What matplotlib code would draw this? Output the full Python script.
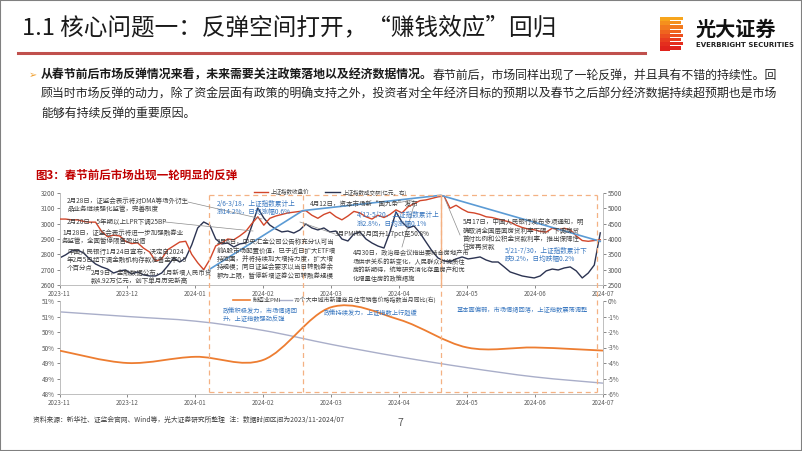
import numpy as np
import matplotlib
matplotlib.use("Agg")
import matplotlib.pyplot as plt
import matplotlib.transforms as mtransforms
from matplotlib.lines import Line2D
from matplotlib.path import Path
from matplotlib.patches import PathPatch, Rectangle

plt.rcParams['font.family'] = ['Noto Sans CJK SC', 'DejaVu Sans']

W, H = 802, 451

months = ['2023-11', '2023-12', '2024-01', '2024-02', '2024-03',
          '2024-04', '2024-05', '2024-06', '2024-07']

# 上证指数收盘价 (roughly one value per 1.5 trading days)
sh_close = [3030, 3030, 3025, 3025, 3015, 3010, 3010, 2950, 2915, 2925,
            2920, 2885, 2870, 2875, 2840, 2815, 2755, 2770, 2830, 2855,
            2880, 2885, 2800, 2745, 2700, 2765, 2855, 2875, 2900, 2895,
            2920, 2950, 3000, 3045, 2990, 3035, 3050, 3060, 3070, 3075,
            3080, 3085, 3055, 3035, 3060, 3075, 3045, 3025, 3050, 3080,
            3070, 3045, 3030, 3055, 3040, 3060, 3090, 3070, 3110, 3130,
            3150, 3155, 3165, 3175, 3180, 3100, 3120, 3095, 3075, 3070,
            3060, 3045, 3040, 3030, 3020, 3010, 2990, 2975, 2965, 2960,
            2950, 2945, 2970, 2960, 2970, 2960, 2920, 2890, 2885, 2890,
            2895]

# 上证指数成交额(亿元)
sh_turnover = [3380, 3480, 3610, 3640, 3545, 3350, 3185, 3090, 3020, 2890,
               2960, 2990, 2860, 2925, 2830, 2795, 2795, 2890, 3120, 3380,
               3250, 3380, 3805, 4360, 4555, 4455, 4000, 3840, 3870, 3740,
               3840, 3870, 4425, 5010, 4685, 4455, 4325, 4230, 4260, 4195,
               4295, 4490, 4360, 4295, 4360, 4230, 4260, 4000, 3935, 4165,
               4230, 4000, 3870, 3770, 3705, 4230, 4880, 4555, 4360, 4425,
               4195, 3900, 3610, 3380, 3285, 3250, 3350, 3415, 3350, 3380,
               3415, 3315, 3250, 3250, 3090, 2925, 2860, 2795, 2760, 2730,
               2795, 2960, 3020, 2990, 3055, 3090, 2960, 2730, 2890, 3150,
               4200]

# trend line through the turning points (2/5, 3/18, 5/20, 7/30)
trend_pos = [2.2, 3.58, 5.61, 7.96]
trend_val = [2700, 3085, 3185, 2885]

# phase boundaries (same dates) for the dashed boxes
phase_edges = [2.2, 3.58, 5.61, 7.91]

# monthly data
pmi = [49.4, 49.0, 49.2, 49.1, 50.8, 50.4, 49.5, 49.5, 49.4]
house_yoy = [-0.7, -1.0, -1.3, -1.9, -2.8, -3.6, -4.3, -4.9, -5.3]
pmi_ticks = [48.0, 48.5, 49.0, 49.5, 50.0, 50.5, 51.0]
pmi_ticklabels = ['48%', '49%', '49%', '50%', '50%', '51%', '51%']
house_ticks = [-6, -5, -4, -3, -2, -1, 0]
house_ticklabels = ['-6%', '-5%', '-4%', '-3%', '-2%', '-1%', '0%']

RED = '#d2462a'
NAVY = '#2c3452'
BLUE = '#5b9bd5'
TXTBLUE = '#3a78c0'
ORANGE = '#ed7d31'
HOUSE = '#a9aec9'
BOX = '#f4b183'
GRAYTXT = '#404040'
TICK = '#595959'
SPINE = '#bfbfbf'


def fx(x):
    return x / W


def fy(y):
    return 1 - y / H


def smooth_path(xs, ys):
    pts = np.column_stack([xs, ys]).astype(float)
    n = len(pts)
    verts = [pts[0]]
    codes = [Path.MOVETO]
    for i in range(n - 1):
        p0 = pts[max(i - 1, 0)]
        p1 = pts[i]
        p2 = pts[i + 1]
        p3 = pts[min(i + 2, n - 1)]
        verts += [p1 + (p2 - p0) / 6, p2 - (p3 - p1) / 6, p2]
        codes += [Path.CURVE4] * 3
    return Path(verts, codes)


fig = plt.figure(figsize=(W / 100, H / 100), dpi=100)

# slide frame, title, logo
fig.add_artist(Rectangle((0, 0), 1, 1, transform=fig.transFigure, fill=False,
                         ec='#808080', lw=1.5))
fig.text(fx(22), fy(28), '1.1 核心问题一：反弹空间打开，“赚钱效应”回归',
         fontsize=17, fontweight='medium', color='#1a1a1a', va='center')
fig.add_artist(Line2D([fx(18), fx(645)], [fy(52.5)] * 2, color='#c0504d', lw=2.2))

logo_cols = ['#f7a51c', '#f5901d', '#f27a1e', '#ef641f', '#ec4f1f', '#e83d1f', '#e42e1e', '#e0231c']
for i, c in enumerate(logo_cols):
    y0 = 17 + i * 4.2
    fig.add_artist(Rectangle((fx(660), fy(y0 + 4.2)), fx(10), 4.25 / H,
                             transform=fig.transFigure, color=c, lw=0))
    wid = 13 if i % 2 == 0 else 11
    fig.add_artist(Rectangle((fx(670), fy(y0 + 3.2)), fx(wid), 3.2 / H,
                             transform=fig.transFigure, color=c, lw=0))
fig.text(fx(696), fy(29), '光大证券', fontsize=14.5, fontweight='bold', color='#111111', va='center')
fig.text(fx(696), fy(45), 'EVERBRIGHT SECURITIES', fontsize=5.0, fontweight='bold',
         color='#222222', va='center', family='DejaVu Sans')

# bullet text
fig.text(fx(29), fy(75), '➢', fontsize=7, color='#f0a030', va='center', family='DejaVu Sans')
bold_part = '从春节前后市场反弹情况来看，未来需要关注政策落地以及经济数据情况。'
t1 = fig.text(fx(41), fy(75), bold_part, fontsize=8.6, fontweight='bold', color='#1a1a1a', va='center')
renderer = fig.canvas.get_renderer()
bb = t1.get_window_extent(renderer)
fig.text(bb.x1 / W, fy(75), '春节前后，市场同样出现了一轮反弹，并且具有不错的持续性。回',
         fontsize=8.6, color='#262626', va='center')
fig.text(fx(41), fy(94.5), '顾当时市场反弹的动力，除了资金层面有政策的明确支持之外，投资者对全年经济目标的预期以及春节之后部分经济数据持续超预期也是市场',
         fontsize=8.6, color='#262626', va='center')
fig.text(fx(41), fy(113), '能够有持续反弹的重要原因。', fontsize=8.6, color='#262626', va='center')

fig.text(fx(35), fy(175), '图3：春节前后市场出现一轮明显的反弹', fontsize=8.3,
         fontweight='bold', color='#c00000', va='center')

# ---------------- top chart ----------------
ax1 = fig.add_axes([fx(59.5), fy(285), fx(603) - fx(59.5), (285 - 193) / H])
ax1r = ax1.twinx()
xs = np.linspace(0, 7.96, len(sh_close))
ax1.plot(xs, sh_close, color=RED, lw=1.0, zorder=3)
ax1.plot(trend_pos, trend_val, color=BLUE, lw=1.2, zorder=4)
ax1r.plot(xs, sh_turnover, color=NAVY, lw=1.0)
ax1.set_zorder(ax1r.get_zorder() + 1)
ax1.patch.set_visible(False)

ax1.set_xlim(0, 8)
ax1.set_ylim(2600, 3200)
ax1.set_yticks(range(2600, 3201, 100))
ax1r.set_ylim(2500, 5500)
ax1r.set_yticks(range(2500, 5501, 500))
ax1.set_xticks(range(len(months)))
ax1.set_xticklabels(months)

# ---------------- bottom chart ----------------
ax2 = fig.add_axes([fx(59.5), fy(394), fx(603) - fx(59.5), (394 - 301) / H])
ax2r = ax2.twinx()
mx = np.arange(len(pmi))
ax2.add_patch(PathPatch(smooth_path(mx, pmi), fill=False, ec=ORANGE, lw=1.3, zorder=3))
ax2r.add_patch(PathPatch(smooth_path(mx, house_yoy), fill=False, ec=HOUSE, lw=1.0))
ax2.set_zorder(ax2r.get_zorder() + 1)
ax2.patch.set_visible(False)
ax2.set_xlim(0, 8)
ax2.set_ylim(48, 51)
ax2.set_yticks(pmi_ticks)
ax2.set_yticklabels(pmi_ticklabels)
ax2r.set_ylim(-6, 0)
ax2r.set_yticks(house_ticks)
ax2r.set_yticklabels(house_ticklabels)
ax2.set_xticks(range(len(months)))
ax2.set_xticklabels(months)

for a in (ax1, ax1r, ax2, ax2r):
    a.tick_params(labelsize=4.6, colors=TICK, length=2, width=0.5, pad=1.2)
    for s in a.spines.values():
        s.set_color(SPINE)
        s.set_linewidth(0.6)
    a.spines['top'].set_visible(False)
for a in (ax1, ax2):
    a.tick_params(axis='x', labelsize=4.4, pad=1.5)

# dashed phase boxes spanning both charts
bt = mtransforms.blended_transform_factory(ax1.transData, fig.transFigure)
for e in phase_edges:
    fig.add_artist(Line2D([e, e], [fy(195), fy(392)], transform=bt, color=BOX,
                          lw=0.9, ls=(0, (4, 3))))
for yy in (195, 392):
    fig.add_artist(Line2D([phase_edges[0], phase_edges[-1]], [fy(yy)] * 2,
                          transform=bt, color=BOX, lw=0.9, ls=(0, (4, 3))))
fig.add_artist(Line2D([phase_edges[2]] * 2, [fy(195), fy(285)], transform=bt,
                      color=BOX, lw=1.0))

# legends
fig.add_artist(Line2D([fx(254), fx(268)], [fy(192.5)] * 2, color=RED, lw=1.0))
fig.text(fx(271), fy(192.5), '上证指数收盘价', fontsize=4.0, color=GRAYTXT, va='center')
fig.add_artist(Line2D([fx(325), fx(340)], [fy(192.5)] * 2, color=NAVY, lw=1.0))
fig.text(fx(343), fy(192.5), '上证指数成交额(亿元，右)', fontsize=4.0, color=GRAYTXT, va='center')
fig.add_artist(Line2D([fx(233), fx(250)], [fy(300)] * 2, color=ORANGE, lw=1.2))
fig.text(fx(253), fy(300), '制造业PMI', fontsize=4.3, color=GRAYTXT, va='center')
fig.add_artist(Line2D([fx(279), fx(292)], [fy(300)] * 2, color=HOUSE, lw=1.0))
fig.text(fx(294), fy(300), '70个大中城市新建商品住宅销售价格指数当月同比(右)',
         fontsize=4.3, color=GRAYTXT, va='center')


def note(x, y, lines, step=8.3, color=GRAYTXT, size=4.7):
    for i, s in enumerate(lines):
        fig.text(fx(x), fy(y + i * step), s, fontsize=size, color=color, va='center')


def leader(x0, y0, x1, y1):
    fig.add_artist(Line2D([fx(x0), fx(x1)], [fy(y0), fy(y1)], color='#8c8c8c', lw=0.5))


note(67, 201, ['2月28日，证监会表示将对DMA等场外衍生', '品业务继续强化监管，完善制度'], 7.7)
note(67, 222, ['2月20日，5年期以上LPR下调25BP'])
note(62, 233, ['1月28日，证监会表示将进一步加强融券业', '务监管，全面暂停限售股出借'], 8.0)
note(67, 252, ['中国人民银行1月24日宣布，决定自2024', '年2月5日起下调金融机构存款准备金率0.5', '个百分点'], 8.2)
note(91, 273, ['2月9日，金融数据公布，1月新增人民币贷', '款4.92万亿元，创下单月历史新高'], 8.3)
note(217, 204, ['2/6-3/18，上证指数累计上', '涨14.2%，日均涨幅0.6%'], 7.6, TXTBLUE, 4.8)
note(217, 242, ['2月6日，中央汇金公司公告称充分认可当', '前A股市场配置价值，已于近日扩大ETF增',
                '持范围，并将持续加大增持力度，扩大增', '持规模；同日证监会要求以当日转融券余',
                '额为上限，暂停新增证券公司转融券规模'], 8.5)
note(310, 204, ['4月12日，资本市场新“国九条”发布'])
note(335, 234, ['3月PMI较2月回升1.7pct至50.8%'])
note(357, 215, ['4/12-5/20，上证指数累计上', '涨2.8%，日均涨幅0.1%'], 8.5, TXTBLUE, 4.8)
note(353, 253, ['4月30日，政治局会议指出要结合房地产市', '场供求关系的新变化，人民群众对优质住',
                '房的新期待，统筹研究消化存量房产和优', '化增量住房的政策措施'], 8.6, GRAYTXT, 4.5)
note(463, 222, ['5月17日，中国人民银行发布多项通知，明', '确取消全国层面房贷利率下限，下调房贷',
                '首付比例和公积金贷款利率，推出保障性', '住房再贷款'], 8.4)
note(505, 251, ['5/21-7/30，上证指数累计下', '跌9.2%，日均跌幅0.2%'], 8.3, TXTBLUE, 4.8)

leader(188, 202, 262, 219)
leader(165, 222, 253, 231)
leader(397, 203, 412, 200)
leader(300, 222, 335, 234)
leader(402, 247, 414, 205)
leader(460, 235, 445, 199)

note(223, 311, ['政策积极发力，市场情绪回', '升，上证指数强劲反弹'], 8.3, TXTBLUE, 4.5)
note(324, 313, ['政策持续发力，上证指数上行趋缓'], 8.3, TXTBLUE, 4.5)
note(457, 310, ['基本面偏弱，市场情绪回落，上证指数震荡调整'], 8.3, TXTBLUE, 4.5)

# footer
fig.text(fx(33), fy(420), '资料来源：新华社、证监会官网、Wind等，光大证券研究所整理   注：数据时间区间为2023/11-2024/07',
         fontsize=4.9, color='#404040', va='center')
fig.text(fx(400), fy(423), '7', fontsize=7.5, color='#595959', va='center', ha='center')

fig.savefig('out.png', dpi=100)
